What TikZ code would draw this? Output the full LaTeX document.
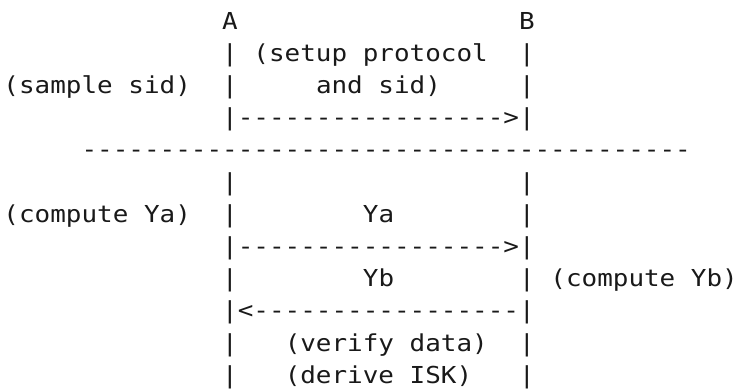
\documentclass[tikz,border=0pt]{standalone}
\usepackage{fontspec}
\setmonofont[FakeStretch=1.112]{DejaVu Sans Mono}
\usepackage{tikz}
\tikzset{asc/.style={font=\ttfamily\fontsize{17.5pt}{21pt}\selectfont,
  anchor=base west, inner sep=0pt, text=black!90}}

\begin{document}
\begin{tikzpicture}[x=11.72pt, y=-24.15pt]
\useasboundingbox (-2.4pt,21.75pt) rectangle (551.1pt,-270.75pt);

\node[asc] (A) at (14,0) {A};
\node[asc] (B) at (33,0) {B};
\node[asc] (setup) at (16,1) {(setup protocol};
\node[asc] (sample) at (0,2) {(sample sid)};
\node[asc] (andsid) at (20,2) {and sid)};
\node[asc] (msgsid) at (14,3) {|----------------->|};

\node[asc] (sep) at (5,4) {---------------------------------------};

\node[asc] (compa) at (0,6) {(compute Ya)};
\node[asc] (ya) at (23,6) {Ya};
\node[asc] (msgya) at (14,7) {|----------------->|};
\node[asc] (yb) at (23,8) {Yb};
\node[asc] (compb) at (35,8) {(compute Yb)};
\node[asc] (msgyb) at (14,9) {|<-----------------|};
\node[asc] (verify) at (18,10) {(verify data)};
\node[asc] (derive) at (18,11) {(derive ISK)};

% lifelines
\foreach \r in {1,2,5,6,8,10,11} {
  \node[asc] (la\r) at (14,\r) {|};
  \node[asc] (lb\r) at (33,\r) {|};
}

\end{tikzpicture}
\end{document}
